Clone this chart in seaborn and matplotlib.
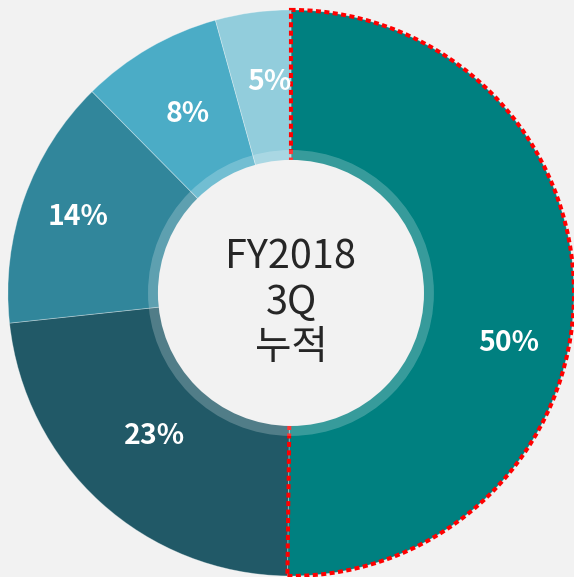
import numpy as np
import matplotlib
matplotlib.use("Agg")
import matplotlib.pyplot as plt
from matplotlib.patches import Wedge, Circle
import seaborn as sns

# ---- data ----
segments = ["A", "B", "C", "D", "E"]
shares = [50.2, 23.1, 14.3, 8.1, 4.3]
share_labels = ["50%", "23%", "14%", "8%", "5%"]
colors = ["#008080", "#215967", "#31869B", "#4BACC6", "#92CDDC"]
center_title = "FY2018\n3Q\n누적"

sns.set_theme(style="white")
plt.rcParams["font.family"] = ["Noto Sans CJK KR", "DejaVu Sans"]

bg = "#F2F2F2"
fig = plt.figure(figsize=(5.74, 5.77), dpi=100, facecolor=bg)
ax = fig.add_axes([0, 0, 1, 1])
ax.set_facecolor(bg)

palette = sns.color_palette(colors)
wedges, _ = ax.pie(
    shares,
    colors=palette,
    startangle=90,
    counterclock=False,
    radius=1.0,
    wedgeprops=dict(width=0.55, edgecolor=(1, 1, 1, 0.35), linewidth=0.6),
)

# red dashed outline for the largest slice
w0 = wedges[0]
outline = Wedge((0, 0), 1.0, w0.theta1, w0.theta2, width=0.55, fill=False,
                edgecolor="#FF0000", linewidth=2.9, linestyle=(0, (1.25, 0.85)),
                zorder=5)
ax.add_patch(outline)

# translucent inner band and center disc
ax.add_patch(Circle((0, 0), 0.505, facecolor="white", alpha=0.22, zorder=6,
                    linewidth=0))
ax.add_patch(Circle((0, 0), 0.47, facecolor=bg, zorder=7, linewidth=0))

# percentage labels
label_r = [0.79, 0.70, 0.80, 0.73, 0.75]
angle_nudge = [-12.6, -1.3, 0, 0, -2]
for w, lab, r, nud in zip(wedges, share_labels, label_r, angle_nudge):
    mid = np.deg2rad((w.theta1 + w.theta2) / 2 + nud)
    ax.text(r * np.cos(mid), r * np.sin(mid), lab,
            ha="center", va="center", color="white", fontsize=20.5,
            fontweight="bold", zorder=8)

ax.text(0, -0.035, center_title, ha="center", va="center", color="#262626",
        fontsize=28.5, linespacing=1.17, zorder=9)

ax.set_xlim(-1.028, 1.0)
ax.set_ylim(-1.0035, 1.035)
ax.set_aspect("equal")
ax.axis("off")

fig.savefig("out.png", dpi=100, facecolor=bg)
